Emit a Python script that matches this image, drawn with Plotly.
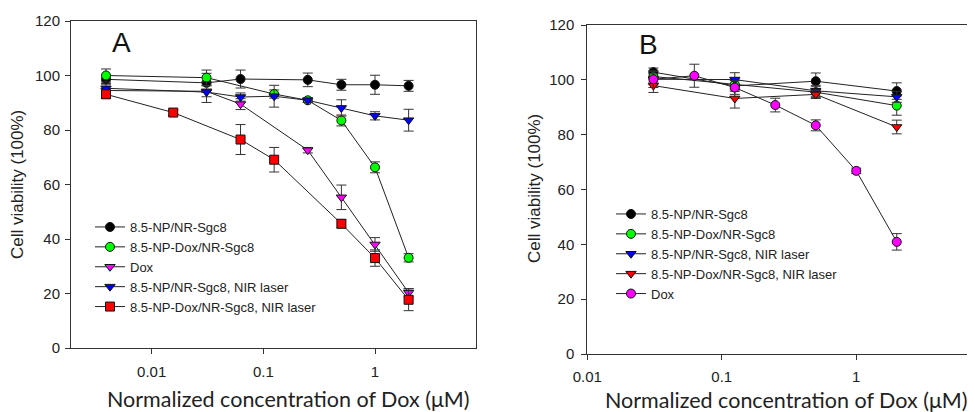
import plotly.graph_objects as go

# Panel A data
a_conc = [0.0039, 0.0156, 0.031, 0.0625, 0.125, 0.25, 0.5, 1, 2]
a_np_sgc8 = [98.6, None, 97.3, 98.7, None, 98.4, 96.6, 96.6, 96.2]
a_np_sgc8_err = [1.5, None, 3.5, 3.3, None, 2.5, 2, 3.5, 2]
a_np_dox = [100, None, 99.2, None, 93.2, 90.9, 83.5, 66.3, 33.1]
a_np_dox_err = [2.4, None, 2.8, None, 1.5, 0.8, 2, 2, 1.5]
a_dox = [94.5, None, 94.2, 89.5, None, 72.6, 55.3, 38, 20.3]
a_dox_err = [1.5, None, 2, 2, None, 1, 4.5, 2.5, 1.5]
a_np_laser = [95.3, None, 93.9, 92.1, 92.4, 90.9, 88.1, 85.2, 83.6]
a_np_laser_err = [1.5, None, 3.8, 1.5, 4, 0.8, 3, 1.5, 4]
a_np_dox_laser = [93.1, 86.4, None, 76.5, 69.1, None, 45.6, 33, 17.7]
a_np_dox_laser_err = [1.5, 1, None, 5.5, 4.5, None, 1.5, 3, 4]

# Panel B data
b_conc = [0.031, 0.0625, 0.125, 0.25, 0.5, 1, 2]
b_np_sgc8 = [102.8, None, 97.8, None, 99.5, None, 95.9]
b_np_sgc8_err = [1.5, None, 2, None, 3, None, 3]
b_np_dox = [101.2, None, 98.3, None, 95.5, None, 90.6]
b_np_dox_err = [2, None, 2, None, 2, None, 3.5]
b_np_laser = [100.2, None, 100.1, None, 96, None, 93.8]
b_np_laser_err = [2, None, 2.5, None, 2, None, 2]
b_np_dox_laser = [97.9, None, 93.2, None, 94.7, None, 82.8]
b_np_dox_laser_err = [2.5, None, 3.5, None, 1.5, None, 2.5]
b_dox = [100.2, 101.5, 97.2, 90.8, 83.4, 66.8, 40.9]
b_dox_err = [3, 4.2, 2.5, 2.5, 2, 1, 3]

TICK_FONT = dict(family="Liberation Sans, Arial", size=15, color="#222")
LINE_COL = "#333"

# the page body has an 8px margin, so the figure is shrunk by it and positions shifted
OFF = 8
W, H = 975 - OFF, 412 - OFF


def px(x):
    return (x - OFF) / W


def py(y):
    return 1 - (y - OFF) / H


def add_series(fig, x, y, err, name, color, symbol, xa, ya, legend):
    pts = [(xi, yi, ei) for xi, yi, ei in zip(x, y, err) if yi is not None]
    fig.add_trace(go.Scatter(
        x=[p[0] for p in pts], y=[p[1] for p in pts],
        error_y=dict(type="data", array=[p[2] for p in pts], color=LINE_COL, thickness=1, width=5),
        mode="lines+markers", name=name, xaxis=xa, yaxis=ya, legend=legend,
        line=dict(color="#222", width=1),
        marker=dict(color=color, symbol=symbol, size=9, line=dict(color="#111", width=1)),
    ))


fig = go.Figure()

add_series(fig, a_conc, a_np_sgc8, a_np_sgc8_err, "8.5-NP/NR-Sgc8", "#000000", "circle", "x", "y", "legend")
add_series(fig, a_conc, a_np_dox, a_np_dox_err, "8.5-NP-Dox/NR-Sgc8", "#00ff00", "circle", "x", "y", "legend")
add_series(fig, a_conc, a_dox, a_dox_err, "Dox", "#ff00ff", "triangle-down", "x", "y", "legend")
add_series(fig, a_conc, a_np_laser, a_np_laser_err, "8.5-NP/NR-Sgc8, NIR laser", "#0000ff", "triangle-down", "x", "y", "legend")
add_series(fig, a_conc, a_np_dox_laser, a_np_dox_laser_err, "8.5-NP-Dox/NR-Sgc8, NIR laser", "#ff0000", "square", "x", "y", "legend")

add_series(fig, b_conc, b_np_sgc8, b_np_sgc8_err, "8.5-NP/NR-Sgc8", "#000000", "circle", "x2", "y2", "legend2")
add_series(fig, b_conc, b_np_dox, b_np_dox_err, "8.5-NP-Dox/NR-Sgc8", "#00ff00", "circle", "x2", "y2", "legend2")
add_series(fig, b_conc, b_np_laser, b_np_laser_err, "8.5-NP/NR-Sgc8, NIR laser", "#0000ff", "triangle-down", "x2", "y2", "legend2")
add_series(fig, b_conc, b_np_dox_laser, b_np_dox_laser_err, "8.5-NP-Dox/NR-Sgc8, NIR laser", "#ff0000", "triangle-down", "x2", "y2", "legend2")
add_series(fig, b_conc, b_dox, b_dox_err, "Dox", "#ff00ff", "circle", "x2", "y2", "legend2")

axis_common = dict(showline=True, linecolor=LINE_COL, linewidth=1, ticks="outside", ticklen=5,
                   tickcolor=LINE_COL, tickfont=TICK_FONT, showgrid=False, zeroline=False,
                   automargin=False)

fig.update_layout(
    width=W, height=H, margin=dict(l=0, r=0, t=0, b=0, autoexpand=False),
    paper_bgcolor="white", plot_bgcolor="white",
    xaxis=dict(type="log", range=[-2.7224, 0.9045], domain=[px(71), px(476)], anchor="y",
               tickvals=[0.01, 0.1, 1], ticktext=["0.01", "0.1", "1"], mirror=True,
               ticklabelstandoff=5, **axis_common),
    yaxis=dict(range=[0, 120], domain=[py(348), py(21)], anchor="x", dtick=20, mirror=True,
               ticklabelstandoff=2, **axis_common),
    xaxis2=dict(type="log", range=[-2, 0.883], domain=[px(587.3), 1], anchor="y2",
                tickvals=[0.01, 0.1, 1], ticktext=["0.01", "0.1", "1"], mirror=True,
                ticklabelstandoff=4, **axis_common),
    yaxis2=dict(range=[0, 120], domain=[py(354), py(25)], anchor="x2", dtick=20, mirror=False,
                ticklabelstandoff=4, **axis_common),
    legend=dict(x=px(90), y=py(212), xanchor="left", yanchor="top", bgcolor="rgba(0,0,0,0)",
                font=dict(family="Liberation Sans, Arial", size=13, color="#222"), tracegroupgap=0),
    legend2=dict(x=px(611), y=py(199), xanchor="left", yanchor="top", bgcolor="rgba(0,0,0,0)",
                 font=dict(family="Liberation Sans, Arial", size=13, color="#222"), tracegroupgap=0),
    showlegend=True,
)

title_font = dict(family="Lato, Open Sans", size=21.5, color="#222")
ylab_font = dict(family="Liberation Sans, Arial", size=17, color="#222")
panel_font = dict(family="Liberation Sans, Arial", size=28, color="#111")

annos = [
    dict(text="A", x=px(121), y=py(43), font=panel_font),
    dict(text="B", x=px(648), y=py(45), font=panel_font),
    dict(text="Normalized concentration of Dox (μM)", x=px(288), y=py(399), font=title_font),
    dict(text="Normalized concentration of Dox (μM)", x=px(786), y=py(400), font=title_font),
    dict(text="Cell viability (100%)", x=px(18), y=py(185), textangle=-90, font=ylab_font),
    dict(text="Cell viability (100%)", x=px(535), y=py(189), textangle=-90, font=ylab_font),
]
for a in annos:
    fig.add_annotation(xref="paper", yref="paper", showarrow=False, xanchor="center", yanchor="middle", **a)

fig.write_html("out.html")
